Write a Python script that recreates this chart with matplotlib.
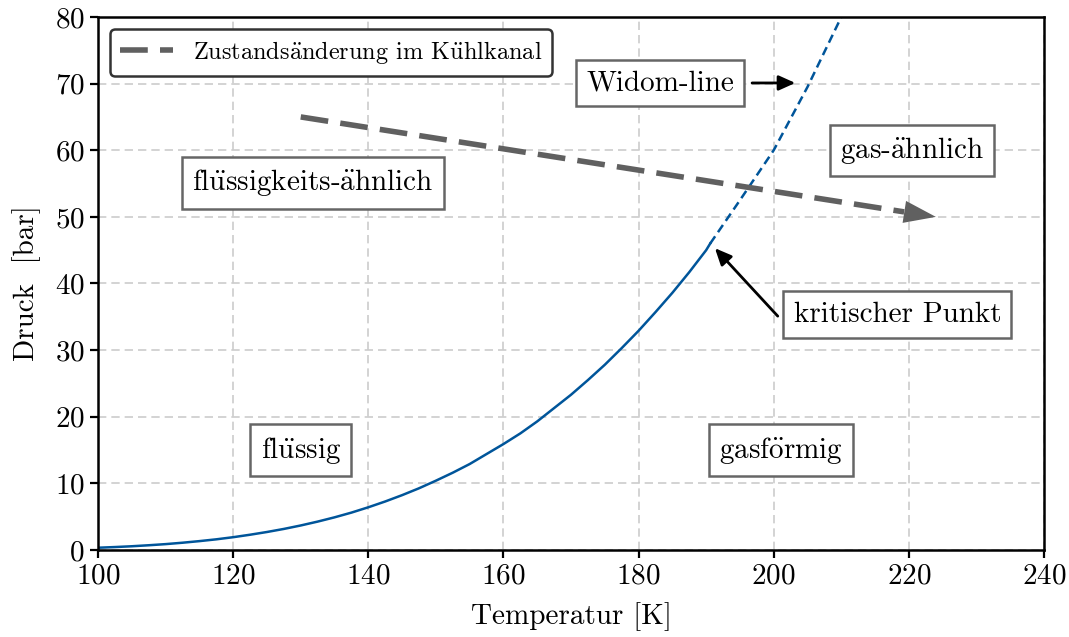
import numpy as np
import matplotlib
matplotlib.use("Agg")
import matplotlib.pyplot as plt

plt.rcParams['font.family'] = ['cmr10', 'DejaVu Serif']
plt.rcParams['mathtext.fontset'] = 'cm'
plt.rcParams['axes.formatter.use_mathtext'] = True

# Dampfdruckkurve
T_sat = [100, 102.5, 105, 107.5, 110, 112.5, 115, 117.5, 120, 122.5, 125, 127.5,
         130, 132.5, 135, 137.5, 140, 142.5, 145, 147.5, 150, 152.5, 155, 157.5,
         160, 162.5, 165, 167.5, 170, 172.5, 175, 177.5, 180, 182.5, 185, 187.5,
         190, 190.6]
p_sat = [0.34, 0.44, 0.56, 0.71, 0.88, 1.09, 1.33, 1.60, 1.92, 2.29, 2.70, 3.16,
         3.68, 4.26, 4.90, 5.61, 6.41, 7.28, 8.23, 9.26, 10.4, 11.6, 12.9, 14.4,
         15.9, 17.5, 19.3, 21.3, 23.3, 25.5, 27.8, 30.3, 32.9, 35.7, 38.6, 41.7,
         45.0, 46.0]

# Widom-Linie
T_widom = [190.6, 195, 200, 205, 210]
p_widom = [46.0, 52.5, 60.0, 69.5, 80.0]

# Zustandsänderung im Kühlkanal
T_kanal = [130, 224]
p_kanal = [65, 50]

ue = r'$\ddot{\mathrm{u}}$'
ae = r'$\ddot{\mathrm{a}}$'
oe = r'$\ddot{\mathrm{o}}$'

blue = '#00559a'
grey = '#606060'
fs = 21

fig = plt.figure(figsize=(10.69, 6.37), dpi=100)
ax = fig.add_axes([0.0917, 0.1366, 0.8849, 0.8367])

ax.plot(T_sat, p_sat, color=blue, lw=1.8)
ax.plot(T_widom, p_widom, color=blue, lw=1.8, ls=(0, (3.5, 2)))

# Pfeil: Linie endet kurz vor der Spitze
frac = 0.05
T_end = T_kanal[1] - frac * (T_kanal[1] - T_kanal[0])
p_end = p_kanal[1] - frac * (p_kanal[1] - p_kanal[0])
ax.plot([T_kanal[0], T_end], [p_kanal[0], p_end], color=grey, lw=4,
        ls=(0, (5, 2.2)), label='Zustands' + ae + 'nderung im K' + ue + 'hlkanal')
ax.annotate('', xy=(T_kanal[1], p_kanal[1]), xytext=(T_end, p_end),
            arrowprops=dict(arrowstyle='-|>,head_length=2.3,head_width=0.8', color=grey, lw=0,
                            shrinkA=0, shrinkB=0))

box = dict(boxstyle='square,pad=0.35', fc='white', ec='#666666', lw=1.8)
ax.text(131.8, 55.1, 'fl' + ue + 'ssigkeits-' + ae + 'hnlich', fontsize=fs,
        ha='center', va='center', bbox=box)
ax.text(220.5, 60, 'gas-' + ae + 'hnlich', fontsize=fs, ha='center', va='center', bbox=box)
ax.text(130, 15, 'fl' + ue + 'ssig', fontsize=fs, ha='center', va='center', bbox=box)
ax.text(201.1, 15, 'gasf' + oe + 'rmig', fontsize=fs, ha='center', va='center', bbox=box)

ax.text(183.2, 70.1, 'Widom-line', fontsize=fs, ha='center', va='center', bbox=box)
ax.text(218.3, 35.3, 'kritischer Punkt', fontsize=fs, ha='center', va='center', bbox=box)
arrow = dict(arrowstyle='-|>,head_length=1.0,head_width=0.45', color='black', lw=2,
             shrinkA=0, shrinkB=0)
ax.annotate('', xy=(203.2, 70.1), xytext=(196.8, 70.1), arrowprops=arrow)
ax.annotate('', xy=(191.3, 45.3), xytext=(200.6, 35.1), arrowprops=arrow)

ax.set_xlim(100, 240)
ax.set_ylim(0, 80)
ax.set_xticks(np.arange(100, 241, 20))
ax.set_yticks(np.arange(0, 81, 10))
ax.grid(True, color='#cccccc', ls=(0, (5, 3)), lw=1.2)
ax.tick_params(labelsize=fs, width=1.6, length=6)
for s in ax.spines.values():
    s.set_linewidth(1.8)
ax.set_xlabel('Temperatur [K]', fontsize=fs, labelpad=9)
ax.set_ylabel('Druck  [bar]', fontsize=fs, labelpad=10)

leg = ax.legend(loc='upper left', fontsize=17.5, frameon=True, fancybox=True, framealpha=1,
                handlelength=2.2)
leg.get_frame().set_edgecolor('#333333')
leg.get_frame().set_linewidth(1.8)

fig.savefig('out.png', dpi=100)
